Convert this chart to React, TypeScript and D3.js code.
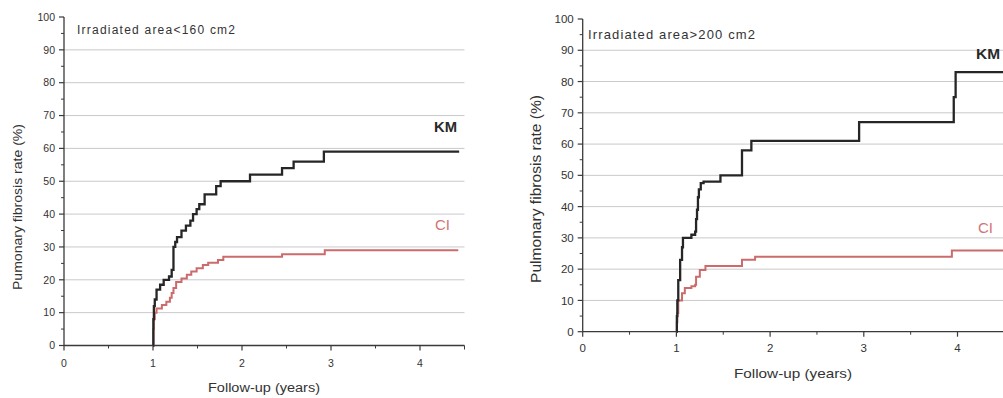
import React from "react";
import * as d3 from "d3";

// ---------- data ----------
const xTicks = [0, 1, 2, 3, 4];
const yTicks = [0, 10, 20, 30, 40, 50, 60, 70, 80, 90, 100];

const leftKmTime = [1.0, 1.004, 1.01, 1.02, 1.04, 1.08, 1.12, 1.18, 1.21, 1.23, 1.25, 1.27, 1.32, 1.37, 1.42, 1.45, 1.49, 1.52, 1.58, 1.71, 1.76, 2.09, 2.45, 2.58, 2.92, 4.44];
const leftKmValue = [0, 8, 12, 14, 17, 18.5, 20, 21, 23, 30, 31.5, 33, 35, 36.5, 38, 40, 41.5, 43, 46, 48.5, 50, 52, 54, 56, 59, 59];
const leftCiTime = [1.0, 1.005, 1.01, 1.02, 1.04, 1.1, 1.15, 1.19, 1.21, 1.23, 1.26, 1.32, 1.38, 1.43, 1.49, 1.56, 1.62, 1.73, 1.79, 2.45, 2.93, 4.43];
const leftCiValue = [0, 5, 8, 10, 11.3, 12.3, 13.3, 14.5, 16, 17.5, 19.3, 20.4, 21.5, 22.5, 23.5, 24.5, 25.2, 26, 27, 27.8, 29, 29];

const rightKmTime = [1.0, 1.005, 1.01, 1.02, 1.04, 1.06, 1.07, 1.16, 1.2, 1.21, 1.22, 1.23, 1.24, 1.26, 1.29, 1.47, 1.7, 1.8, 2.95, 3.96, 3.98, 4.5];
const rightKmValue = [0, 5, 10, 16.5, 23, 27, 30, 31, 32, 36, 39, 43, 45.5, 47.5, 48, 50, 58, 61, 67, 75, 83, 83];
const rightCiTime = [1.0, 1.005, 1.01, 1.02, 1.06, 1.09, 1.16, 1.2, 1.21, 1.25, 1.31, 1.7, 1.84, 3.94, 4.5];
const rightCiValue = [0, 3, 6, 10, 12.3, 14, 14.5, 15, 17.6, 19.7, 21, 23, 24, 26, 26];

const panels = [
  {
    title: "Irradiated area<160 cm2",
    yLabel: "Pumonary fibrosis rate (%)",
    xLabel: "Follow-up (years)",
    kmT: leftKmTime, kmV: leftKmValue, ciT: leftCiTime, ciV: leftCiValue,
  },
  {
    title: "Irradiated area>200 cm2",
    yLabel: "Pulmonary fibrosis rate (%)",
    xLabel: "Follow-up (years)",
    kmT: rightKmTime, kmV: rightKmValue, ciT: rightCiTime, ciV: rightCiValue,
  },
];

// ---------- layout ----------
const layouts = [
  {
    x0: 64, yTop: 17, yBot: 345.5, pxPerYear: 89,
    fs: 10.5, titleX: 77, titleY: 34, titleFs: 12, titleLen: 158,
    yLabX: 22, yLabY: 207, yLabFs: 13, yLabLen: 166,
    xLabX: 264, xLabY: 392, xLabFs: 12, xLabLen: 112,
    xTickY: 367,
    km: { x: 434, y: 131.5, fs: 15, len: 23 }, ci: { x: 435, y: 229.5, fs: 15, len: 15 },
  },
  {
    x0: 582.7, yTop: 19, yBot: 331.7, pxPerYear: 93.7,
    fs: 11.5, titleX: 588, titleY: 39, titleFs: 13, titleLen: 167,
    yLabX: 541, yLabY: 189, yLabFs: 14, yLabLen: 188,
    xLabX: 793, xLabY: 378, xLabFs: 13, xLabLen: 118,
    xTickY: 352,
    km: { x: 976, y: 59, fs: 14, len: 24 }, ci: { x: 978, y: 232.5, fs: 14.5, len: 15 },
  },
];

const FONT = "'Liberation Sans', Arial, sans-serif";
const AXIS = "#3a3a3a";
const GRID = "#c9c9cd";
const KM_COLOR = "#262626";
const CI_COLOR = "#cb6b6b";

function Panel({ p, l }: { p: typeof panels[0]; l: typeof layouts[0] }) {
  const x = d3.scaleLinear().domain([0, 4.5]).range([l.x0, l.x0 + 4.5 * l.pxPerYear]);
  const y = d3.scaleLinear().domain([0, 100]).range([l.yBot, l.yTop]);
  const line = d3
    .line<[number, number]>()
    .x((d) => x(d[0]))
    .y((d) => y(d[1]))
    .curve(d3.curveStepAfter);
  const km = line(p.kmT.map((t, i) => [t, p.kmV[i]] as [number, number])) || "";
  const ci = line(p.ciT.map((t, i) => [t, p.ciV[i]] as [number, number])) || "";
  const minorY = d3.range(5, 100, 10);
  const minorX = [0.5, 1.5, 2.5, 3.5];
  const xEnd = x(4.5);
  return (
    <g fontFamily={FONT}>
      {/* grid */}
      {yTicks.filter((v) => v > 0 && v < 100).map((v) => (
        <line key={"g" + v} x1={x(0)} x2={xEnd} y1={y(v)} y2={y(v)} stroke={GRID} strokeWidth={1} />
      ))}
      {/* y axis */}
      <line x1={x(0)} x2={x(0)} y1={y(0)} y2={y(100)} stroke={AXIS} strokeWidth={1.3} />
      {yTicks.map((v) => (
        <g key={"yt" + v}>
          <line x1={x(0) - 5} x2={x(0)} y1={y(v)} y2={y(v)} stroke={AXIS} strokeWidth={1.2} />
          <text x={x(0) - 9} y={y(v)} dy="0.36em" textAnchor="end" fontSize={l.fs} fill="#333">
            {v}
          </text>
        </g>
      ))}
      {minorY.map((v) => (
        <line key={"ym" + v} x1={x(0) - 3} x2={x(0)} y1={y(v)} y2={y(v)} stroke={AXIS} strokeWidth={1} />
      ))}
      {/* x axis */}
      <line x1={x(0)} x2={xEnd} y1={y(0)} y2={y(0)} stroke={AXIS} strokeWidth={1.3} />
      {xTicks.map((v) => (
        <g key={"xt" + v}>
          <line x1={x(v)} x2={x(v)} y1={y(0)} y2={y(0) + 5} stroke={AXIS} strokeWidth={1.2} />
          <text x={x(v)} y={l.xTickY} textAnchor="middle" fontSize={l.fs} fill="#333">
            {v}
          </text>
        </g>
      ))}
      {minorX.map((v) => (
        <line key={"xm" + v} x1={x(v)} x2={x(v)} y1={y(0)} y2={y(0) + 3} stroke={AXIS} strokeWidth={1} />
      ))}
      <line x1={xEnd} x2={xEnd} y1={y(0)} y2={y(0) + 4} stroke={AXIS} strokeWidth={1} />
      {/* curves */}
      <path d={ci} fill="none" stroke={CI_COLOR} strokeWidth={2} />
      <path d={km} fill="none" stroke={KM_COLOR} strokeWidth={2.3} />
      {/* labels */}
      <text x={l.titleX} y={l.titleY} fontSize={l.titleFs} fill="#333" textLength={l.titleLen} lengthAdjust="spacing">
        {p.title}
      </text>
      <text x={l.km.x} y={l.km.y} fontSize={l.km.fs} fontWeight="bold" fill="#2a2a2a" textLength={l.km.len} lengthAdjust="spacingAndGlyphs">
        KM
      </text>
      <text x={l.ci.x} y={l.ci.y} fontSize={l.ci.fs} fill="#d07575" textLength={l.ci.len} lengthAdjust="spacingAndGlyphs">
        CI
      </text>
      <text
        transform={`translate(${l.yLabX},${l.yLabY}) rotate(-90)`}
        textAnchor="middle"
        fontSize={l.yLabFs}
        fill="#333"
        textLength={l.yLabLen}
        lengthAdjust="spacingAndGlyphs"
      >
        {p.yLabel}
      </text>
      <text x={l.xLabX - l.xLabLen / 2} y={l.xLabY} fontSize={l.xLabFs} fill="#333" textLength={l.xLabLen} lengthAdjust="spacingAndGlyphs">
        {p.xLabel}
      </text>
    </g>
  );
}

export default function App() {
  return (
    <svg
      width={1003}
      height={398}
      style={{ position: "absolute", left: 0, top: 0, background: "#fff" }}
    >
      <rect x={0} y={0} width={1003} height={398} fill="#fff" />
      {panels.map((p, i) => (
        <Panel key={i} p={p} l={layouts[i]} />
      ))}
    </svg>
  );
}
